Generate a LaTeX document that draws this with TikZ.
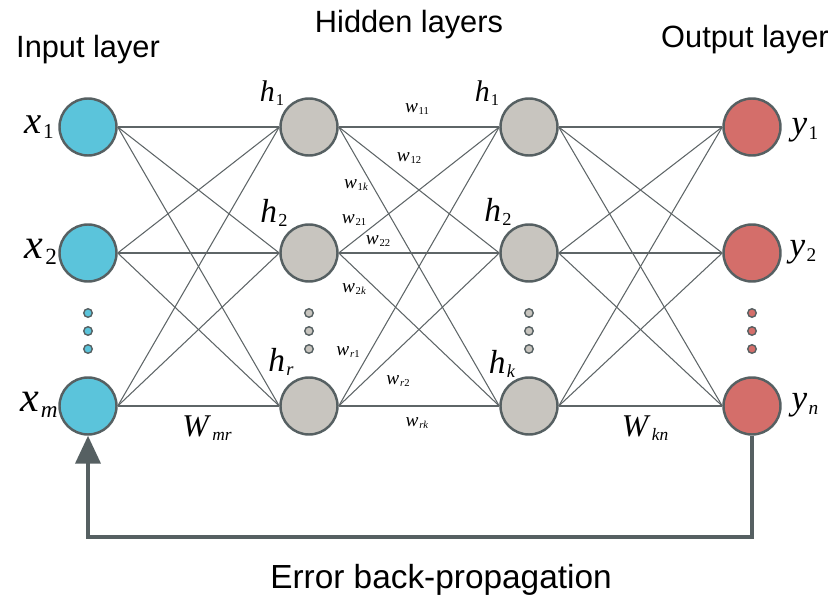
\documentclass[tikz,border=0pt]{standalone}
\usepackage{fontspec}
\setmainfont{Liberation Serif}
\newfontfamily\titlefont{Liberation Sans}
\usepackage{graphicx}
\usetikzlibrary{arrows.meta}

\definecolor{incol}{HTML}{5BC4DB}
\definecolor{hidcol}{HTML}{C8C5BF}
\definecolor{outcol}{HTML}{D46E6A}
\definecolor{rimcol}{HTML}{566062}
\definecolor{linkcol}{HTML}{5E6567}

\newcommand{\nlab}[2]{\textit{#1}\kern0.04em\raisebox{-0.3ex}{\scalebox{0.55}{#2}}}

\begin{document}
\begin{tikzpicture}[
	neuron/.style={circle, draw=rimcol, line width=1.4pt, minimum size=1.14cm, inner sep=0pt},
	dotty/.style={circle, draw=rimcol, line width=0.8pt, minimum size=0.17cm, inner sep=0pt},
	link/.style={draw=linkcol, line width=0.6pt},
	title/.style={font=\titlefont\fontsize{17.5}{20}\selectfont, inner sep=0pt},
	xlab/.style={font=\fontsize{24}{24}\selectfont, inner sep=0pt},
	hlab/.style={font=\fontsize{19}{19}\selectfont, inner sep=0pt},
	ylab/.style={font=\fontsize{20}{20}\selectfont, inner sep=0pt},
	bigw/.style={font=\fontsize{18}{18}\selectfont, inner sep=0pt},
	smallw/.style={font=\fontsize{11}{11}\selectfont, inner sep=0pt}
	]
	\useasboundingbox (0,0) rectangle (16.76,12.06);

	\node at (1.76,9.52) [neuron, fill=incol] (x1) {};
	\node at (1.76,7.0) [neuron, fill=incol] (x2) {};
	\node at (1.76,3.94) [neuron, fill=incol] (xm) {};
	\node at (6.18,9.52) [neuron, fill=hidcol] (ha1) {};
	\node at (6.18,7.0) [neuron, fill=hidcol] (ha2) {};
	\node at (6.18,3.94) [neuron, fill=hidcol] (har) {};
	\node at (10.58,9.52) [neuron, fill=hidcol] (hb1) {};
	\node at (10.58,7.0) [neuron, fill=hidcol] (hb2) {};
	\node at (10.58,3.94) [neuron, fill=hidcol] (hbk) {};
	\node at (15.04,9.52) [neuron, fill=outcol] (y1) {};
	\node at (15.04,7.0) [neuron, fill=outcol] (y2) {};
	\node at (15.04,3.94) [neuron, fill=outcol] (yn) {};

	\node at (1.76,5.8) [dotty, fill=incol] (xd1) {};
	\node at (1.76,5.44) [dotty, fill=incol] (xd2) {};
	\node at (1.76,5.08) [dotty, fill=incol] (xd3) {};
	\node at (6.18,5.8) [dotty, fill=hidcol] (had1) {};
	\node at (6.18,5.44) [dotty, fill=hidcol] (had2) {};
	\node at (6.18,5.08) [dotty, fill=hidcol] (had3) {};
	\node at (10.58,5.8) [dotty, fill=hidcol] (hbd1) {};
	\node at (10.58,5.44) [dotty, fill=hidcol] (hbd2) {};
	\node at (10.58,5.08) [dotty, fill=hidcol] (hbd3) {};
	\node at (15.04,5.8) [dotty, fill=outcol] (yd1) {};
	\node at (15.04,5.44) [dotty, fill=outcol] (yd2) {};
	\node at (15.04,5.08) [dotty, fill=outcol] (yd3) {};

	\node at (1.76,11.06) [title] (tin) {Input layer};
	\node at (8.18,11.56) [title] (thid) {Hidden layers};
	\node at (14.9,11.26) [title] (tout) {Output layer};
	\node at (8.82,0.46) [title, font=\titlefont\fontsize{19}{22}\selectfont] (terr) {Error back-propagation};

	\node at (0.78,9.52) [xlab, font=\fontsize{22}{22}\selectfont] (lx1) {\nlab{x}{1}};
	\node at (0.82,7.02) [xlab] (lx2) {\nlab{x}{2}};
	\node at (0.78,3.96) [xlab] (lxm) {\nlab{x}{\textit{m}}};
	\node at (5.44,10.2) [hlab, font=\fontsize{17}{17}\selectfont] (lha1) {\nlab{h}{1}};
	\node at (5.48,7.8) [hlab] (lha2) {\nlab{h}{2}};
	\node at (5.62,4.82) [hlab] (lhar) {\nlab{h}{\textit{r}}};
	\node at (9.74,10.2) [hlab, font=\fontsize{17}{17}\selectfont] (lhb1) {\nlab{h}{1}};
	\node at (9.96,7.82) [hlab] (lhb2) {\nlab{h}{2}};
	\node at (10.04,4.78) [hlab] (lhbk) {\nlab{h}{\textit{k}}};
	\node at (16.10,9.46) [ylab] (ly1) {\nlab{y}{1}};
	\node at (16.06,7.02) [ylab] (ly2) {\nlab{y}{2}};
	\node at (16.10,3.96) [ylab] (lyn) {\nlab{y}{\textit{n}}};

	\node at (4.14,3.5) [bigw] (lwmr) {\nlab{W}{\textit{mr}}};
	\node at (12.9,3.5) [bigw] (lwkn) {\nlab{W}{\textit{kn}}};
	\node at (8.34,9.88) [smallw] (lw11) {\nlab{w}{11}};
	\node at (8.18,8.9) [smallw] (lw12) {\nlab{w}{12}};
	\node at (7.12,8.36) [smallw] (lw1k) {\nlab{w}{1\textit{k}}};
	\node at (7.08,7.66) [smallw] (lw21) {\nlab{w}{21}};
	\node at (7.56,7.24) [smallw] (lw22) {\nlab{w}{22}};
	\node at (7.08,6.28) [smallw] (lw2k) {\nlab{w}{2\textit{k}}};
	\node at (6.96,5.02) [smallw] (lwr1) {\nlab{w}{\textit{r}1}};
	\node at (7.96,4.44) [smallw] (lwr2) {\nlab{w}{\textit{r}2}};
	\node at (8.34,3.6) [smallw] (lwrk) {\nlab{w}{\textit{rk}}};

	% input -> first hidden
	\draw [link] (x1.east) -- (ha1.west);
	\draw [link] (x1.east) -- (ha2.west);
	\draw [link] (x1.east) -- (har.west);
	\draw [link] (x2.east) -- (ha1.west);
	\draw [link] (x2.east) -- (ha2.west);
	\draw [link] (x2.east) -- (har.west);
	\draw [link] (xm.east) -- (ha1.west);
	\draw [link] (xm.east) -- (ha2.west);
	\draw [link] (xm.east) -- (har.west);

	% first hidden -> second hidden
	\draw [link] (ha1.east) -- (hb1.west);
	\draw [link] (ha1.east) -- (hb2.west);
	\draw [link] (ha1.east) -- (hbk.west);
	\draw [link] (ha2.east) -- (hb1.west);
	\draw [link] (ha2.east) -- (hb2.west);
	\draw [link] (ha2.east) -- (hbk.west);
	\draw [link] (har.east) -- (hb1.west);
	\draw [link] (har.east) -- (hb2.west);
	\draw [link] (har.east) -- (hbk.west);

	% second hidden -> output
	\draw [link] (hb1.east) -- (y1.west);
	\draw [link] (hb1.east) -- (y2.west);
	\draw [link] (hb1.east) -- (yn.west);
	\draw [link] (hb2.east) -- (y1.west);
	\draw [link] (hb2.east) -- (y2.west);
	\draw [link] (hb2.east) -- (yn.west);
	\draw [link] (hbk.east) -- (y1.west);
	\draw [link] (hbk.east) -- (y2.west);
	\draw [link] (hbk.east) -- (yn.west);

	% back-propagation loop
	\coordinate (bl) at (1.76,1.32);
	\draw [draw=rimcol, line width=2.3pt, -{Triangle[length=5.6mm, width=5mm]}, color=rimcol]
		(yn.south) |- (bl) -- (xm.south);

\end{tikzpicture}
\end{document}
